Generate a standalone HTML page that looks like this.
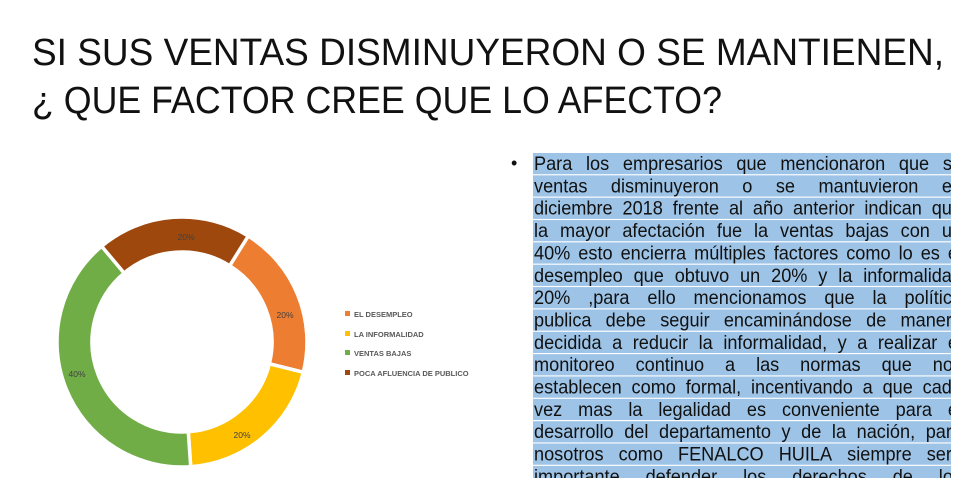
<!DOCTYPE html>
<html><head><meta charset="utf-8"><style>
html,body{margin:0;padding:0;background:#fff;width:954px;height:478px;overflow:hidden;}
</style></head><body>
<svg width="954" height="478" viewBox="0 0 954 478" xmlns="http://www.w3.org/2000/svg" font-family="Liberation Sans, sans-serif">
<text x="32" y="65" font-size="38" fill="#111" textLength="912" lengthAdjust="spacingAndGlyphs">SI SUS VENTAS DISMINUYERON O SE MANTIENEN,</text>
<text x="32" y="113" font-size="38" fill="#111" textLength="690" lengthAdjust="spacingAndGlyphs">¿ QUE FACTOR CREE QUE LO AFECTO?</text>
<g id="donut"></g>
<g font-size="8.5" fill="#404040" text-anchor="middle">
<text x="285" y="318">20%</text>
<text x="242" y="438">20%</text>
<text x="77" y="377">40%</text>
<text x="186" y="240">20%</text>
</g>
<g font-size="7.5" font-weight="bold" fill="#595959">
<rect x="345" y="311" width="5" height="5" fill="#ED7D31"/><text x="354" y="317">EL DESEMPLEO</text>
<rect x="345" y="331" width="5" height="5" fill="#FFC000"/><text x="354" y="337">LA INFORMALIDAD</text>
<rect x="345" y="350" width="5" height="5" fill="#70AD47"/><text x="354" y="356">VENTAS BAJAS</text>
<rect x="345" y="370" width="5" height="5" fill="#9E480E"/><text x="354" y="376">POCA AFLUENCIA DE PUBLICO</text>
</g>
<text x="511" y="169" font-size="18" fill="#111">•</text>
<g id="para"></g>
</svg>
<script>
var ns="http://www.w3.org/2000/svg";
var cx=182,cy=342,R=125,r=90;
var segs=[[32,104,"#ED7D31"],[104,176,"#FFC000"],[176,320,"#70AD47"],[320,392,"#9E480E"]];
function pt(a,rad){a=(a-90)*Math.PI/180;return [cx+rad*Math.cos(a),cy+rad*Math.sin(a)];}
var g=document.getElementById("donut");
segs.forEach(function(s){var a0=s[0],a1=s[1],l=(a1-a0)>180?1:0;
var p1=pt(a0,R),p2=pt(a1,R),p3=pt(a1,r),p4=pt(a0,r);
var p=document.createElementNS(ns,"path");
p.setAttribute("d","M"+p1+" A"+R+" "+R+" 0 "+l+" 1 "+p2+" L"+p3+" A"+r+" "+r+" 0 "+l+" 0 "+p4+"Z");
p.setAttribute("fill",s[2]);p.setAttribute("stroke","#fff");p.setAttribute("stroke-width","3.5");g.appendChild(p);});
var lines=["Para los empresarios que mencionaron que su","ventas disminuyeron o se mantuvieron en","diciembre 2018 frente al año anterior indican que","la mayor afectación fue la ventas bajas con un","40% esto encierra múltiples factores como lo es el","desempleo que obtuvo un 20% y la informalidad","20% ,para ello mencionamos que la política","publica debe seguir encaminándose de manera","decidida a reducir la informalidad, y a realizar el","monitoreo continuo a las normas que nos","establecen como formal, incentivando a que cada","vez mas la legalidad es conveniente para el","desarrollo del departamento y de la nación, para","nosotros como FENALCO HUILA siempre será","importante defender los derechos de los"];
var pg=document.getElementById("para");
var clip=document.createElementNS(ns,"clipPath");clip.id="c";var cr=document.createElementNS(ns,"rect");
cr.setAttribute("x",533);cr.setAttribute("y",150);cr.setAttribute("width",418);cr.setAttribute("height",330);clip.appendChild(cr);pg.appendChild(clip);
var gg=document.createElementNS(ns,"g");gg.setAttribute("clip-path","url(#c)");pg.appendChild(gg);
var FS=19.5,X0=534,TARGET=428;
lines.forEach(function(l,i){var y=153+i*22.35;
var rc=document.createElementNS(ns,"rect");rc.setAttribute("x",533);rc.setAttribute("y",y);rc.setAttribute("width",418);rc.setAttribute("height",21.2);rc.setAttribute("fill","#9DC3E6");gg.appendChild(rc);
var words=l.split(" ");var els=[],tot=0;
words.forEach(function(w){var t=document.createElementNS(ns,"text");t.setAttribute("y",y+17);t.setAttribute("font-size",FS);t.setAttribute("fill","#111");t.textContent=w;gg.appendChild(t);var ww=t.getComputedTextLength()*0.93;els.push([t,ww]);tot+=ww;});
var scale=1,gap=(TARGET-tot)/(words.length-1);
if(gap<5){scale=(TARGET-5*(words.length-1))/tot;gap=5;}
var x=X0;els.forEach(function(e){e[0].setAttribute("x",x);e[0].setAttribute("textLength",e[1]*scale);e[0].setAttribute("lengthAdjust","spacingAndGlyphs");x+=e[1]*scale+gap;});
});
</script>
</body></html>
